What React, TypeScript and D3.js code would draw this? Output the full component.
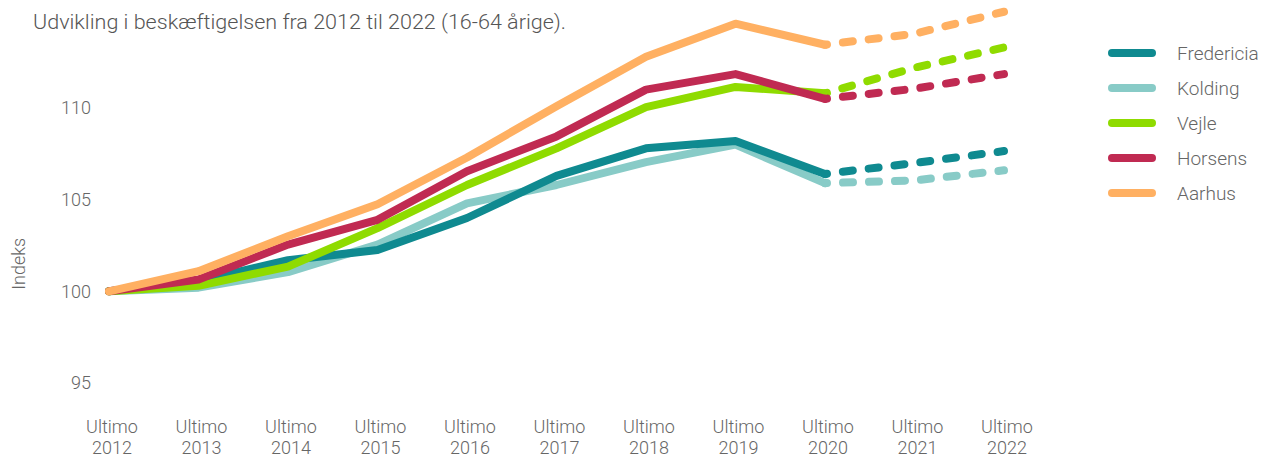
import * as d3 from 'd3'

const years = [2012, 2013, 2014, 2015, 2016, 2017, 2018, 2019, 2020, 2021, 2022]
const yTicks = [95, 100, 105, 110]

const fredericia = [100, 100.55, 101.7, 102.25, 104.0, 106.3, 107.8, 108.2, 106.4, 107.0, 107.65]
const kolding = [100, 100.2, 101.05, 102.55, 104.8, 105.8, 107.05, 108.0, 105.9, 106.05, 106.6]
const vejle = [100, 100.3, 101.35, 103.45, 105.8, 107.8, 110.05, 111.15, 110.8, 112.2, 113.3]
const horsens = [100, 100.65, 102.55, 103.9, 106.55, 108.45, 111.0, 111.85, 110.5, 111.05, 111.85]
const aarhus = [100, 101.1, 103.0, 104.75, 107.3, 110.1, 112.8, 114.6, 113.45, 114.05, 115.25]

// last actual year, after that projection (dashed)
const lastActual = 2020

const series = [
  { name: 'Fredericia', values: fredericia, color: '#0f8a90' },
  { name: 'Kolding', values: kolding, color: '#88cbc7' },
  { name: 'Vejle', values: vejle, color: '#8fdb00' },
  { name: 'Horsens', values: horsens, color: '#c02a52' },
  { name: 'Aarhus', values: aarhus, color: '#ffb062' },
]
// draw order (which line sits on top)
const drawOrder = ['Kolding', 'Fredericia', 'Vejle', 'Horsens', 'Aarhus']

const font = "Roboto, 'Open Sans', sans-serif"
const textColor = '#666'

export default function App() {
  const width = 1262
  const height = 457

  const x = d3.scalePoint<number>().domain(years).range([109, 1004])
  const y = d3.scaleLinear().domain([95, 110]).range([383, 108])

  const line = d3
    .line<[number, number]>()
    .x((d) => x(d[0]) as number)
    .y((d) => y(d[1]))

  const ordered = drawOrder.map((n) => series.find((s) => s.name === n)!)

  return (
    <svg width={width} height={height} style={{ position: 'absolute', left: 0, top: 0 }}>
      <rect width={width} height={height} fill="#fff" />
      <text
        x={33}
        y={29}
        fontFamily={font}
        fontWeight={300}
        fontSize={21}
        fill="#555"
        textLength={533}
        lengthAdjust="spacingAndGlyphs"
      >
        Udvikling i beskæftigelsen fra 2012 til 2022 (16-64 årige).
      </text>

      {yTicks.map((t) => (
        <text
          key={t}
          x={91}
          y={y(t)}
          dy="0.35em"
          textAnchor="end"
          fontFamily={font}
          fontWeight={300}
          fontSize={18}
          fill={textColor}
        >
          {t}
        </text>
      ))}
      <text
        transform={`translate(25, ${y(101.5)}) rotate(-90)`}
        textAnchor="middle"
        fontFamily={font}
        fontWeight={300}
        fontSize={18}
        fill={textColor}
      >
        Indeks
      </text>

      {years.map((yr) => (
        <text
          key={yr}
          x={x(yr)! + 3}
          textAnchor="middle"
          fontFamily={font}
          fontWeight={300}
          fontSize={18}
          fill={textColor}
        >
          <tspan x={x(yr)! + 3} y={433}>
            Ultimo
          </tspan>
          <tspan x={x(yr)! + 3} y={454}>
            {yr}
          </tspan>
        </text>
      ))}

      {ordered.map((s) => {
        const pts = years.map((yr, i) => [yr, s.values[i]] as [number, number])
        const actual = pts.filter((p) => p[0] <= lastActual)
        const proj = pts.filter((p) => p[0] >= lastActual)
        return (
          <g key={s.name}>
            <path
              d={line(actual) || ''}
              fill="none"
              stroke={s.color}
              strokeWidth={8}
              strokeLinecap="round"
              strokeLinejoin="round"
            />
            <path
              d={line(proj) || ''}
              fill="none"
              stroke={s.color}
              strokeWidth={8}
              strokeLinecap="round"
              strokeDasharray="10 16"
              strokeDashoffset={8}
            />
          </g>
        )
      })}

      {series.map((s, i) => (
        <g key={s.name} transform={`translate(1110, ${53 + i * 35})`}>
          <line x1={2} x2={42} stroke={s.color} strokeWidth={8} strokeLinecap="round" />
          <text x={67} dy="0.35em" fontFamily={font} fontWeight={300} fontSize={19} fill={textColor}>
            {s.name}
          </text>
        </g>
      ))}
    </svg>
  )
}
